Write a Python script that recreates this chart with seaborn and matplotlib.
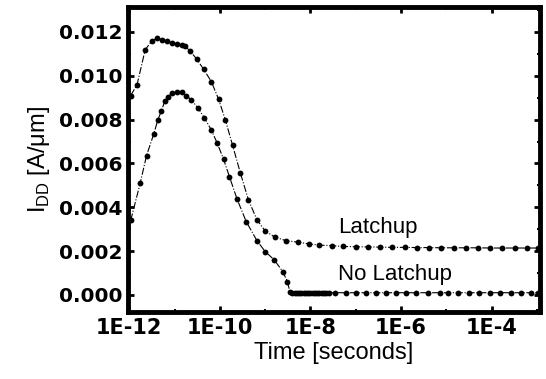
import numpy as np
import pandas as pd
import seaborn as sns
import matplotlib.pyplot as plt
from matplotlib.ticker import FixedLocator, NullFormatter

sns.set_theme(style="ticks")
plt.rcParams['font.family'] = ['Liberation Sans', 'DejaVu Sans']
plt.rcParams['mathtext.fontset'] = 'custom'
plt.rcParams['mathtext.rm'] = 'Liberation Sans'
plt.rcParams['text.color'] = 'black'
plt.rcParams['axes.labelcolor'] = 'black'
plt.rcParams['xtick.color'] = 'black'
plt.rcParams['ytick.color'] = 'black'
plt.rcParams['axes.edgecolor'] = 'black'

# log10(time [s]) and I_DD [A/um]
latch_logt = [-11.97, -11.83, -11.65, -11.51, -11.39, -11.28, -11.17, -11.06, -10.95,
              -10.84, -10.76, -10.65, -10.51, -10.36, -10.19, -10.03, -9.88, -9.72,
              -9.55, -9.37, -9.18, -9.00, -8.78, -8.53, -8.28, -8.04, -7.80, -7.53,
              -7.27, -7.00, -6.73, -6.46, -6.19, -5.92, -5.65, -5.38, -5.11, -4.84,
              -4.57, -4.30, -4.03, -3.76, -3.49, -3.22, -2.97]
latch_i = [0.0091, 0.00959, 0.01119, 0.01157, 0.01172, 0.01164, 0.0116, 0.01152, 0.01146,
           0.0114, 0.01134, 0.01111, 0.01076, 0.0103, 0.00974, 0.00894, 0.00799, 0.00683,
           0.00558, 0.00434, 0.00342, 0.00292, 0.00263, 0.00247, 0.00241, 0.00233,
           0.00227, 0.00225, 0.00221, 0.0022, 0.00219, 0.00218, 0.00217, 0.00217,
           0.00216, 0.00216, 0.00215, 0.00215, 0.00215, 0.00215, 0.00214, 0.00214,
           0.00214, 0.00214, 0.00214]

nolatch_logt = [-11.97, -11.76, -11.62, -11.46, -11.37, -11.29, -11.22, -11.15, -11.06,
                -10.95, -10.84, -10.74, -10.63, -10.48, -10.34, -10.19, -10.06, -9.92,
                -9.79, -9.62, -9.42, -9.18, -9.00, -8.80, -8.61, -8.51, -8.45,
                -8.40, -8.35, -8.30, -8.25, -8.20, -8.15, -8.10, -8.05, -8.00, -7.95,
                -7.90, -7.85, -7.80, -7.75, -7.70, -7.65, -7.60,
                -7.45, -7.22, -6.99, -6.78, -6.55, -6.33, -6.11, -5.89, -5.66, -5.40,
                -5.13, -4.96, -4.73, -4.50, -4.27, -4.04, -3.81, -3.58, -3.35, -3.12,
                -2.97]
nolatch_i = [0.0034, 0.0051, 0.00636, 0.00735, 0.00799, 0.00841, 0.00883, 0.00903,
             0.00921, 0.00928, 0.00924, 0.0091, 0.0089, 0.00852, 0.00807, 0.00753,
             0.00693, 0.0062, 0.0054, 0.00437, 0.00335, 0.00247, 0.00198, 0.0016,
             0.00106, 0.00061, 0.00011,
             0.0001, 0.0001, 0.0001, 0.0001, 0.0001, 0.0001, 0.0001, 0.0001, 0.0001,
             0.0001, 0.0001, 0.0001, 0.0001, 0.0001, 0.0001, 0.0001, 0.0001,
             0.0001, 0.0001, 0.0001, 0.0001, 0.0001, 0.0001, 0.0001, 0.0001, 0.0001,
             0.0001, 0.0001, 0.0001, 0.0001, 0.0001, 0.0001, 0.0001, 0.0001, 0.0001,
             0.0001, 0.0001, 0.0001]

xtick_vals = [1e-12, 1e-10, 1e-8, 1e-6, 1e-4]
xtick_labels = ["1E-12", "1E-10", "1E-8", "1E-6", "1E-4"]
ytick_vals = [0.000, 0.002, 0.004, 0.006, 0.008, 0.010, 0.012]

df = pd.concat([
    pd.DataFrame({"t": 10.0 ** np.array(latch_logt), "i": latch_i, "case": "Latchup"}),
    pd.DataFrame({"t": 10.0 ** np.array(nolatch_logt), "i": nolatch_i, "case": "No Latchup"}),
])

fig = plt.figure(figsize=(5.46, 3.79), dpi=100)
ax = fig.add_axes([0.2344, 0.1768, 0.7546, 0.8047])

for case in ["Latchup", "No Latchup"]:
    d = df[df["case"] == case]
    sns.lineplot(data=d, x="t", y="i", ax=ax, color="black", marker="o",
                 markersize=4.2, markeredgewidth=0, linestyle="-.", linewidth=0.8,
                 sort=False, estimator=None)

ax.set_xscale("log")
ax.set_xlim(10 ** -12.03, 10 ** -2.93)
ax.set_ylim(-0.00078, 0.01314)
ax.set_xticks(xtick_vals)
ax.set_xticklabels(xtick_labels)
ax.xaxis.set_minor_locator(FixedLocator([1e-11, 1e-9, 1e-7, 1e-5, 1e-3]))
ax.xaxis.set_minor_formatter(NullFormatter())
ax.set_yticks(ytick_vals)
ax.set_yticklabels([f"{v:.3f}" for v in ytick_vals])
ax.yaxis.set_minor_locator(FixedLocator([0.001, 0.003, 0.005, 0.007, 0.009, 0.011, 0.013]))
ax.yaxis.set_minor_formatter(NullFormatter())
for lab in ax.get_yticklabels():
    lab.set_fontfamily("DejaVu Sans")
    lab.set_fontweight("bold")
    lab.set_fontsize(14.5)
for lab in ax.get_xticklabels():
    lab.set_fontfamily("DejaVu Sans")
    lab.set_fontweight("bold")
    lab.set_fontsize(15)
ax.tick_params(which="major", direction="in", length=4, width=2, top=True, right=True, pad=4)
ax.tick_params(which="minor", direction="in", length=2.5, width=1.5, top=True, right=True)
for s in ax.spines.values():
    s.set_linewidth(3.5)
    s.set_visible(True)

ax.set_xlabel("Time [seconds]", fontsize=17, labelpad=3)
ax.set_ylabel("I$_\\mathregular{DD}$ [A/\u03bcm]", fontsize=17, labelpad=5)

ax.text(10 ** -7.39, 0.00283, "Latchup", fontsize=16, ha="left", va="baseline")
ax.text(10 ** -7.39, 0.00068, "No Latchup", fontsize=16, ha="left", va="baseline")

fig.savefig("out.png", dpi=100)
